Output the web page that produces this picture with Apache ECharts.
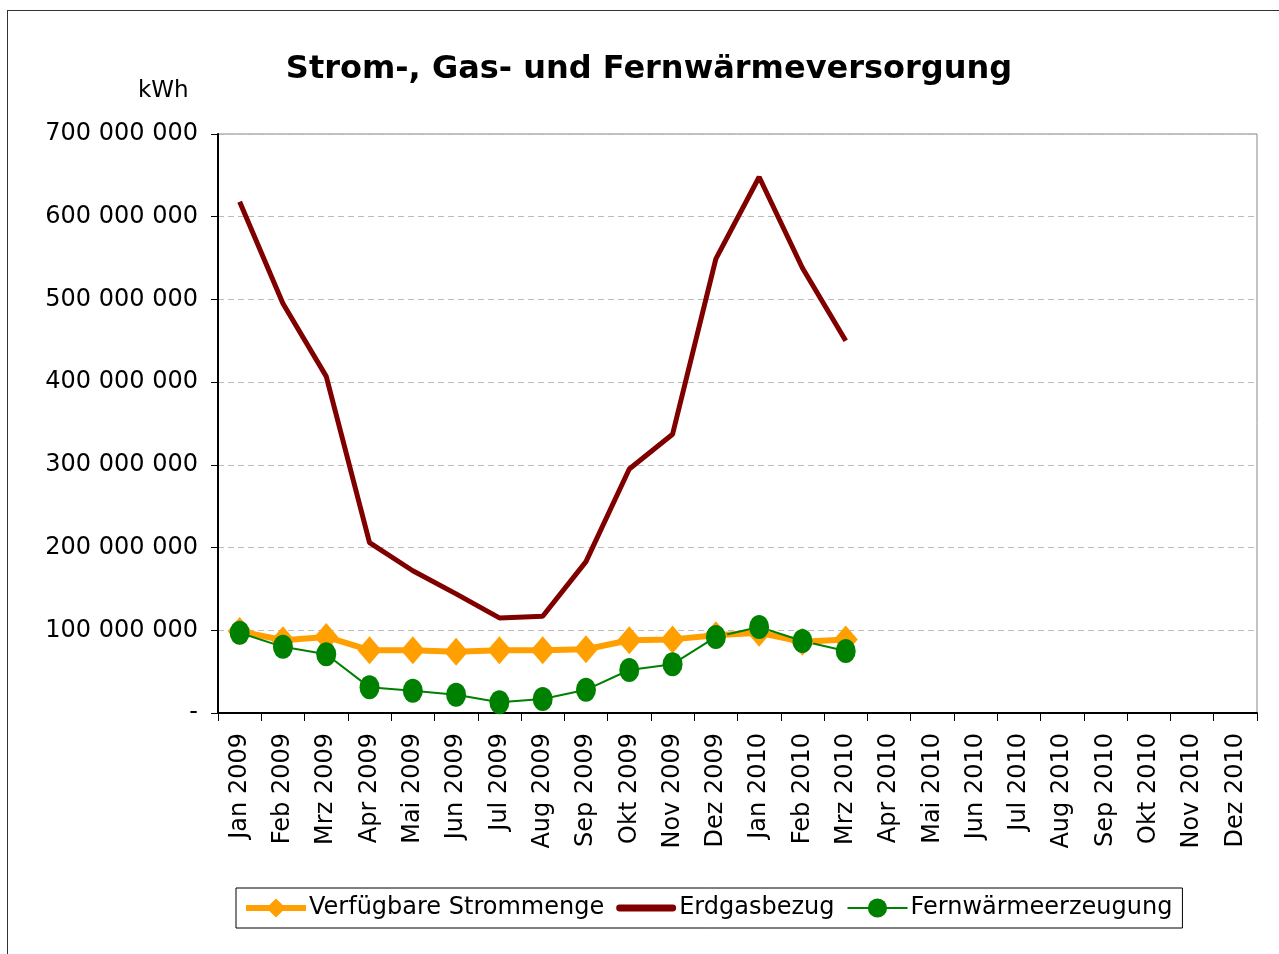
<!DOCTYPE html>
<html>
<head>
<meta charset="utf-8">
<title>Strom-, Gas- und Fernwärmeversorgung</title>
<script src="https://cdn.jsdelivr.net/npm/echarts@6/dist/echarts.min.js"></script>
<style>
  html, body { margin: 0; padding: 0; background: #fff; }
  #frame {
    position: absolute; left: 7px; top: 10px; width: 1300px; height: 1000px;
    border: 1.5px solid #333; box-sizing: border-box;
  }
  #someChart { position: absolute; left: 0; top: 0; width: 1279px; height: 954px; }
</style>
</head>
<body>
<div id="frame"></div>
<div id="someChart"></div>
<script>
// months shown on the x axis
const months = [
  "Jan 2009", "Feb 2009", "Mrz 2009", "Apr 2009", "Mai 2009", "Jun 2009",
  "Jul 2009", "Aug 2009", "Sep 2009", "Okt 2009", "Nov 2009", "Dez 2009",
  "Jan 2010", "Feb 2010", "Mrz 2010", "Apr 2010", "Mai 2010", "Jun 2010",
  "Jul 2010", "Aug 2010", "Sep 2010", "Okt 2010", "Nov 2010", "Dez 2010",
];

// values in kWh
const strom = [
  99e6, 88e6, 92e6, 76e6, 76e6, 74e6, 76e6, 76e6, 77e6, 88e6, 89e6, 94e6,
  97e6, 86e6, 89e6,
];
const erdgas = [
  618e6, 495e6, 407e6, 206e6, 172e6, 144e6, 115e6, 117e6, 183e6, 295e6, 337e6, 549e6,
  648e6, 538e6, 450e6,
];
const fernwaerme = [
  97e6, 80e6, 71e6, 31e6, 27e6, 22e6, 13e6, 17e6, 28e6, 52e6, 59e6, 92e6,
  104e6, 87e6, 75e6,
];

const FONT = "DejaVu Sans";
const ORANGE = "#ffa000";
const DARKRED = "#800000";
const GREEN = "#008000";

// "700 000 000" style, zero shown as a dash
function fmt(v) {
  if (v === 0) return "-";
  return String(Math.round(v)).replace(/\B(?=(\d{3})+(?!\d))/g, " ");
}

const chart = echarts.init(document.getElementById("someChart"));

chart.setOption({
  animation: false,
  textStyle: { fontFamily: FONT, color: "#000" },
  title: {
    text: "Strom-, Gas- und Fernwärmeversorgung",
    left: 644,
    top: 49,
    textAlign: "center",
    textStyle: { fontFamily: FONT, fontSize: 32, fontWeight: "bold", color: "#000" },
  },
  graphic: [
    {
      type: "text",
      left: 138,
      top: 80,
      style: { text: "kWh", font: "23px " + FONT, fill: "#000" },
    },
  ],
  grid: {
    left: 218,
    right: 22,
    top: 134,
    bottom: 241,
    show: true,
    borderColor: "#888",
    borderWidth: 1,
    backgroundColor: "transparent",
  },
  legend: {
    left: 236,
    top: 888,
    padding: [8, 10, 8, 7],
    itemGap: 12,
    itemWidth: 60,
    itemHeight: 24,
    borderColor: "#000",
    borderWidth: 1,
    textStyle: { fontFamily: FONT, fontSize: 24, color: "#000", padding: [4, 0, 0, -2] },
    data: [
      { name: "Verfügbare Strommenge", lineStyle: { width: 6 } },
      {
        name: "Erdgasbezug",
        icon: "path://M3,0 H57 A3,3 0 0 1 57,7 H3 A3,3 0 0 1 3,0 Z",
      },
      { name: "Fernwärmeerzeugung", lineStyle: { width: 2 } },
    ],
  },
  xAxis: {
    type: "category",
    data: months,
    boundaryGap: true,
    axisLine: { lineStyle: { color: "#000", width: 2 } },
    axisTick: { show: true, length: 8, lineStyle: { color: "#000", width: 1 } },
    axisLabel: {
      rotate: 90,
      interval: 0,
      margin: 20,
      fontFamily: FONT,
      fontSize: 24,
      color: "#000",
    },
  },
  yAxis: {
    type: "value",
    min: 0,
    max: 700000000,
    interval: 100000000,
    axisLine: { show: true, lineStyle: { color: "#000", width: 2 } },
    axisTick: { show: true, length: 7, lineStyle: { color: "#000" } },
    axisLabel: { formatter: fmt, fontFamily: FONT, fontSize: 24, color: "#000", margin: 20 },
    splitLine: { show: true, lineStyle: { color: "#bbb", type: [6, 4], width: 1 } },
  },
  series: [
    {
      name: "Verfügbare Strommenge",
      type: "line",
      data: strom,
      symbol: "diamond",
      symbolSize: [24, 28],
      color: ORANGE,
      lineStyle: { width: 6, color: ORANGE },
      itemStyle: { color: ORANGE },
    },
    {
      name: "Erdgasbezug",
      type: "line",
      data: erdgas,
      symbol: "none",
      color: DARKRED,
      lineStyle: { width: 5, color: DARKRED },
      itemStyle: { color: DARKRED },
    },
    {
      name: "Fernwärmeerzeugung",
      type: "line",
      data: fernwaerme,
      symbol: "circle",
      symbolSize: [20, 24],
      color: GREEN,
      lineStyle: { width: 2, color: GREEN },
      itemStyle: { color: GREEN },
    },
  ],
});
</script>
</body>
</html>
